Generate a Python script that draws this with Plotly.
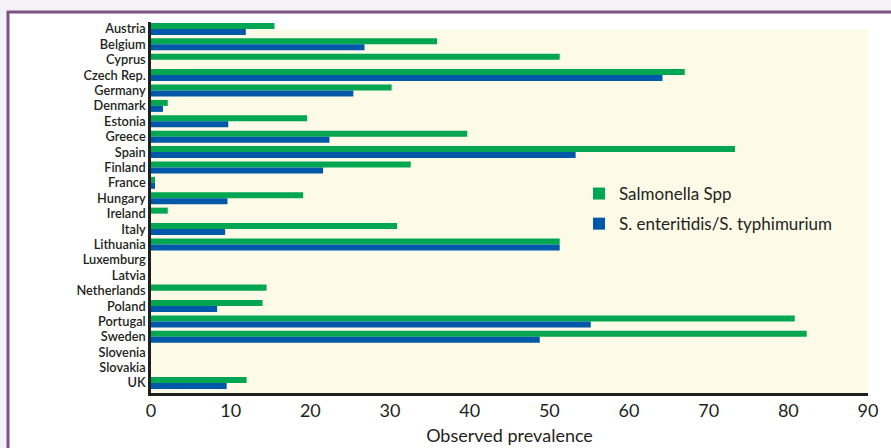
import plotly.graph_objects as go

countries = ["Austria", "Belgium", "Cyprus", "Czech Rep.", "Germany", "Denmark", "Estonia",
             "Greece", "Spain", "Finland", "France", "Hungary", "Ireland", "Italy", "Lithuania",
             "Luxemburg", "Latvia", "Netherlands", "Poland", "Portugal", "Sweden", "Slovenia",
             "Slovakia", "UK"]
salmonella_spp = [15.5, 35.9, 51.3, 67.0, 30.2, 2.1, 19.6, 39.7, 73.3, 32.6, 0.5, 19.1, 2.1,
                  30.9, 51.3, None, None, 14.5, 14.0, 80.8, 82.3, None, None, 12.0]
enteritidis_typhimurium = [11.9, 26.8, None, 64.2, 25.4, 1.5, 9.7, 22.4, 53.3, 21.6, 0.5, 9.6,
                           None, 9.3, 51.3, None, None, None, 8.3, 55.2, 48.8, None, None, 9.5]
x_ticks = [0, 10, 20, 30, 40, 50, 60, 70, 80, 90]

GREEN = "#00A651"
BLUE = "#0058A8"
TEXT = "#231F20"
FONT = "Lato"

fig = go.Figure()
fig.add_trace(go.Bar(y=countries, x=salmonella_spp, orientation="h", name="Salmonella Spp",
                     marker=dict(color=GREEN, line=dict(width=0)), legendgroup="a"))
fig.add_trace(go.Bar(y=countries, x=enteritidis_typhimurium, orientation="h",
                     name="S. enteritidis/S. typhimurium",
                     marker=dict(color=BLUE, line=dict(width=0)), legendgroup="b"))

L, R, T, B = 151, 23, 22, 55
W, H = 891, 448
pw, ph = W - L - R, H - T - B


def px_x(p):
    return (p - L) / pw


def px_y(p):
    return (H - B - p) / ph


fig.update_layout(
    width=W, height=H,
    margin=dict(l=L, r=R, t=T, b=B),
    paper_bgcolor="#F4F2F6",
    plot_bgcolor="white",
    barmode="group", bargap=0.22, bargroupgap=0,
    font=dict(family=FONT, color=TEXT),
    showlegend=True,
    legend=dict(x=px_x(579), y=px_y(176), xanchor="left", yanchor="top",
                bgcolor="rgba(0,0,0,0)", font=dict(size=17, family=FONT, color=TEXT),
                traceorder="grouped", tracegroupgap=5),
    xaxis=dict(range=[0, 90], tickvals=x_ticks, showgrid=False, zeroline=False,
               showline=True, linecolor="#231F20", linewidth=2.5, ticks="",
               automargin=False,
               tickfont=dict(size=18, family=FONT, color=TEXT),
               title=dict(text="Observed prevalence", font=dict(size=18, family=FONT, color=TEXT),
                          standoff=10)),
    yaxis=dict(type="category", categoryorder="array", categoryarray=countries,
               tickmode="linear", tick0=0, dtick=1, automargin=False,
               range=[23.65, -0.45], showgrid=False, zeroline=False,
               showline=True, linecolor="#231F20", linewidth=2.5, ticks="",
               tickfont=dict(size=12.8, family=FONT, color=TEXT, weight=600)),
    shapes=[
        dict(type="rect", xref="paper", yref="paper", x0=px_x(8), x1=px_x(960),
             y0=px_y(520), y1=px_y(12), fillcolor="white",
             line=dict(color="#7E5283", width=3), layer="below"),
        dict(type="rect", xref="paper", yref="paper", x0=0, x1=1, y0=0, y1=px_y(29),
             fillcolor="#FEFAE8", line=dict(width=0), layer="below"),
    ],
)

fig.write_html("out.html", config={"displayModeBar": False},
               post_script="document.body.style.margin='0';document.body.style.overflow='hidden';")
